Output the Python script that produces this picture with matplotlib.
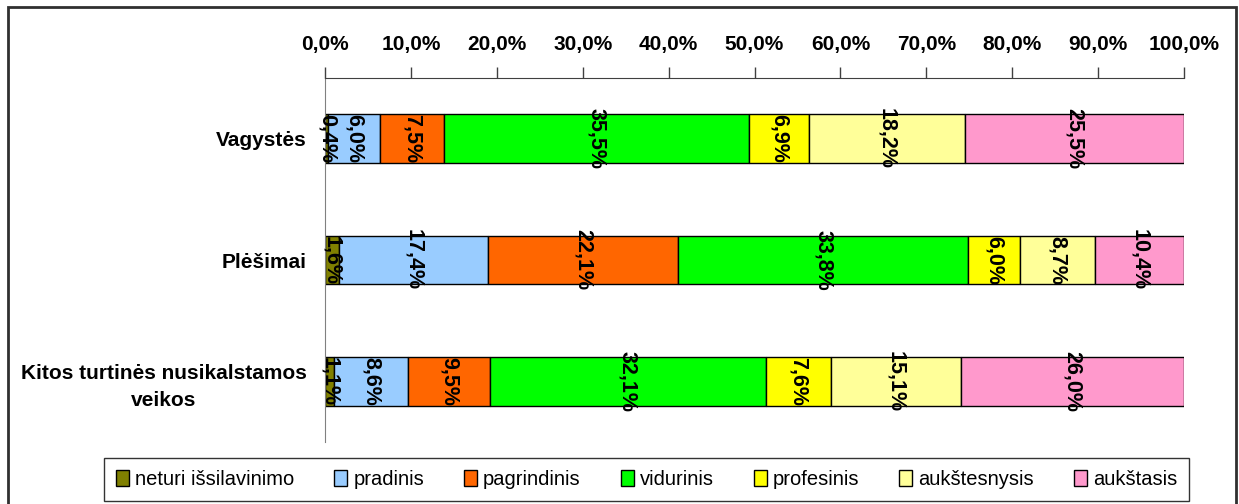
import matplotlib
matplotlib.use("Agg")
import matplotlib.pyplot as plt
from matplotlib.patches import Rectangle, Patch
import numpy as np

plt.rcParams['font.family'] = ['Liberation Sans', 'DejaVu Sans']

categories = ["Vagystės", "Plėšimai", "Kitos turtinės nusikalstamos\nveikos"]
series_names = ["neturi išsilavinimo", "pradinis", "pagrindinis", "vidurinis",
                "profesinis", "aukštesnysis", "aukštasis"]
colors = ["#808000", "#99CCFF", "#FF6600", "#00FF00", "#FFFF00", "#FFFF99", "#FF99CC"]
values = [
    [0.4, 6.0, 7.5, 35.5, 6.9, 18.2, 25.5],
    [1.6, 17.4, 22.1, 33.8, 6.0, 8.7, 10.4],
    [1.1, 8.6, 9.5, 32.1, 7.6, 15.1, 26.0],
]
xticks = [0, 10, 20, 30, 40, 50, 60, 70, 80, 90, 100]

W, H = 1239, 504
fig = plt.figure(figsize=(W / 100, H / 100), dpi=100)
ax = fig.add_axes([325 / W, 1 - 442 / H, (1184 - 325) / W, (442 - 78) / H])

vals = np.array(values)
y = np.arange(len(categories))
left = np.zeros(len(categories))
for j, name in enumerate(series_names):
    ax.barh(y, vals[:, j], left=left, height=0.4, color=colors[j],
            edgecolor="black", linewidth=1, label=name, zorder=2)
    for i in range(len(categories)):
        v = vals[i, j]
        ax.text(left[i] + v / 2, y[i], f"{v:.1f}%".replace(".", ","),
                rotation=-90, ha="center", va="center", fontsize=15.5,
                fontweight="bold", zorder=3)
    left += vals[:, j]

ax.set_xlim(0, 100)
ax.set_ylim(2.5, -0.5)
ax.xaxis.tick_top()
ax.set_xticks(xticks)
ax.set_xticklabels([f"{t:.1f}%".replace(".", ",") for t in xticks],
                   fontsize=15, fontweight="bold")
ax.tick_params(axis="x", direction="out", length=8, width=1, color="#404040", pad=9)
ax.set_yticks(y)
ax.set_yticklabels(categories, fontsize=15, fontweight="bold",
                   multialignment="center", linespacing=1.5)
ax.tick_params(axis="y", length=0, pad=13)
for s in ["right", "bottom"]:
    ax.spines[s].set_visible(False)
ax.spines["top"].set_color("#404040")
ax.spines["left"].set_color("#808080")

handles = [Patch(facecolor=c, edgecolor="black", linewidth=1) for c in colors]
leg = fig.legend(handles, series_names, loc="lower left", ncol=7,
                 bbox_to_anchor=(104 / W, 3 / H, (1189 - 104) / W, 39 / H),
                 mode="expand", fontsize=14.5, frameon=True, fancybox=False,
                 handlelength=0.65, handleheight=0.85, handletextpad=0.3,
                 borderaxespad=0, borderpad=0.6, columnspacing=1.0)
leg.get_frame().set_edgecolor("black")
leg.get_frame().set_linewidth(1)

fig.patches.append(Rectangle((7.5 / W, -0.02), (1236 - 7.5) / W, 1 - 6.5 / H + 0.02,
                             transform=fig.transFigure, fill=False,
                             edgecolor="#303030", linewidth=2, clip_on=False))

fig.savefig("out.png", dpi=100)
